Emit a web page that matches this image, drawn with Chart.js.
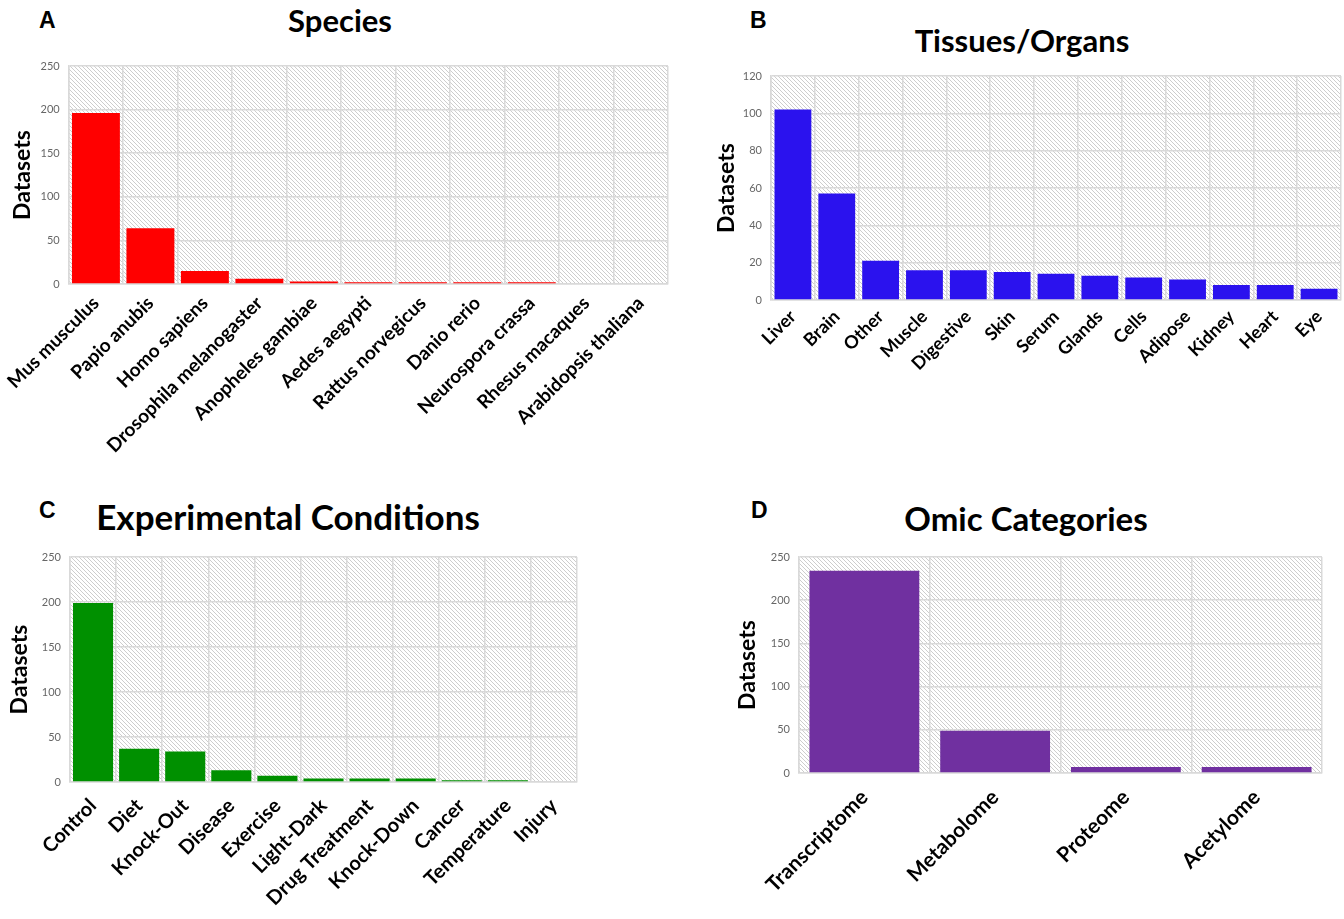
<!DOCTYPE html>
<html>
<head>
<meta charset="utf-8">
<script src="https://cdn.jsdelivr.net/npm/chart.js@4.4.1/dist/chart.umd.min.js"></script>
<style>
  html, body { margin: 0; padding: 0; background: #fff; overflow: hidden; }
  #page { position: relative; width: 1344px; height: 919px; font-family: Lato, 'Open Sans', sans-serif; }
  .panel { position: absolute; }
  .letter { position: absolute; font-family: 'Liberation Sans', Arial, sans-serif; font-weight: bold; font-size: 23px; color: #000; line-height: 1; }
  .title { position: absolute; transform: translateX(-50%); white-space: nowrap; font-family: Lato, sans-serif; font-weight: bold; color: #000; line-height: 1; }
</style>
</head>
<body>
<div id="page">
  <div class="letter" style="left:39px;top:9px">A</div>
  <div class="letter" style="left:750px;top:9px">B</div>
  <div class="letter" style="left:39px;top:499px">C</div>
  <div class="letter" style="left:751px;top:499px">D</div>

  <div class="title" style="left:340px;top:5px;font-size:31px">Species</div>
  <div class="title" style="left:1022px;top:25px;font-size:31px">Tissues/Organs</div>
  <div class="title" style="left:288px;top:499px;font-size:35px">Experimental Conditions</div>
  <div class="title" style="left:1026px;top:502px;font-size:33px">Omic Categories</div>

  <div class="panel" style="left:0;top:0;width:680px;height:465px"><canvas id="chartA"></canvas></div>
  <div class="panel" style="left:690px;top:0;width:654px;height:465px"><canvas id="chartB"></canvas></div>
  <div class="panel" style="left:0;top:470px;width:600px;height:449px"><canvas id="chartC"></canvas></div>
  <div class="panel" style="left:690px;top:470px;width:654px;height:449px"><canvas id="chartD"></canvas></div>
</div>

<script>
// ── Data ─────────────────────────────────────────────────────

const speciesLabels = ['Mus musculus', 'Papio anubis', 'Homo sapiens', 'Drosophila melanogaster',
  'Anopheles gambiae', 'Aedes aegypti', 'Rattus norvegicus', 'Danio rerio', 'Neurospora crassa',
  'Rhesus macaques', 'Arabidopsis thaliana'];
const speciesCounts = [196, 64, 15, 6, 3, 2, 2, 2, 2, 0, 0];

const tissueLabels = ['Liver', 'Brain', 'Other', 'Muscle', 'Digestive', 'Skin', 'Serum', 'Glands',
  'Cells', 'Adipose', 'Kidney', 'Heart', 'Eye'];
const tissueCounts = [102, 57, 21, 16, 16, 15, 14, 13, 12, 11, 8, 8, 6];

const conditionLabels = ['Control', 'Diet', 'Knock-Out', 'Disease', 'Exercise', 'Light-Dark',
  'Drug Treatment', 'Knock-Down', 'Cancer', 'Temperature', 'Injury'];
const conditionCounts = [199, 37, 34, 13, 7, 4, 4, 4, 2, 2, 0];

const omicLabels = ['Transcriptome', 'Metabolome', 'Proteome', 'Acetylome'];
const omicCounts = [234, 49, 7, 7];

// ── Hatched plot background ──────────────────────────────────

function makeHatch() {
  const s = 4;
  const c = document.createElement('canvas');
  c.width = s; c.height = s;
  const g = c.getContext('2d');
  g.strokeStyle = '#cdcdcd';
  g.lineWidth = 1;
  [-s, 0, s].forEach(k => {
    g.beginPath();
    g.moveTo(k, 0);
    g.lineTo(k + s, s);
    g.stroke();
  });
  return c;
}

const hatchPlugin = {
  id: 'hatch',
  beforeDraw(chart) {
    const a = chart.chartArea;
    const ctx = chart.ctx;
    ctx.save();
    ctx.fillStyle = ctx.createPattern(makeHatch(), 'repeat');
    ctx.fillRect(a.left, a.top, a.right - a.left, a.bottom - a.top);
    ctx.restore();
  }
};

// ── Chart builder ────────────────────────────────────────────

function drawPanel(id, labels, values, opts) {
  new Chart(document.getElementById(id), {
    type: 'bar',
    data: {
      labels: labels,
      datasets: [{
        data: values,
        backgroundColor: opts.color,
        borderWidth: 0,
        barPercentage: 1,
        categoryPercentage: opts.catPct || 0.86
      }]
    },
    options: {
      responsive: true,
      maintainAspectRatio: false,
      animation: false,
      layout: { padding: { top: opts.top, right: opts.right, left: 0, bottom: 0 } },
      plugins: { legend: { display: false }, tooltip: { enabled: false } },
      scales: {
        x: {
          afterFit: s => { s.height = opts.xHeight; },
          grid: { color: '#d9d9d9', lineWidth: 1.5, drawTicks: false, offset: true },
          border: { color: '#d9d9d9', width: 1.5 },
          ticks: {
            color: '#000',
            minRotation: 45,
            maxRotation: 45,
            autoSkip: false,
            padding: opts.labelPad,
            font: { family: 'Lato, sans-serif', weight: 'bold', size: opts.labelSize }
          }
        },
        y: {
          min: 0,
          max: opts.max,
          afterFit: s => { s.width = opts.yWidth; },
          grid: { color: '#d9d9d9', lineWidth: 1.5, drawTicks: false },
          border: { color: '#d9d9d9', width: 1.5 },
          ticks: {
            stepSize: opts.step,
            color: '#666',
            padding: 9,
            font: { family: 'Lato, sans-serif', size: 11 }
          },
          title: {
            display: true,
            text: 'Datasets',
            color: '#000',
            padding: { top: opts.titlePad, bottom: 0 },
            font: { family: 'Lato, sans-serif', weight: 'bold', size: 23 }
          }
        }
      }
    },
    plugins: [hatchPlugin]
  });
}

drawPanel('chartA', speciesLabels, speciesCounts, {
  color: '#ff0000', max: 250, step: 50, top: 66, right: 12, xHeight: 181, yWidth: 66,
  titlePad: 6, labelSize: 19, labelPad: 8, catPct: 0.88
});

drawPanel('chartB', tissueLabels, tissueCounts, {
  color: '#2b12ee', max: 120, step: 20, top: 76, right: 3, xHeight: 165, yWidth: 81,
  titlePad: 23, labelSize: 18, labelPad: 6, catPct: 0.84
});

drawPanel('chartC', conditionLabels, conditionCounts, {
  color: '#009000', max: 250, step: 50, top: 87, right: 23, xHeight: 137, yWidth: 70,
  titlePad: 6, labelSize: 20, labelPad: 12, catPct: 0.87
});

drawPanel('chartD', omicLabels, omicCounts, {
  color: '#7030a0', max: 250, step: 50, top: 87, right: 22, xHeight: 146, yWidth: 109,
  titlePad: 44, labelSize: 21, labelPad: 12, catPct: 0.84
});
</script>
</body>
</html>
